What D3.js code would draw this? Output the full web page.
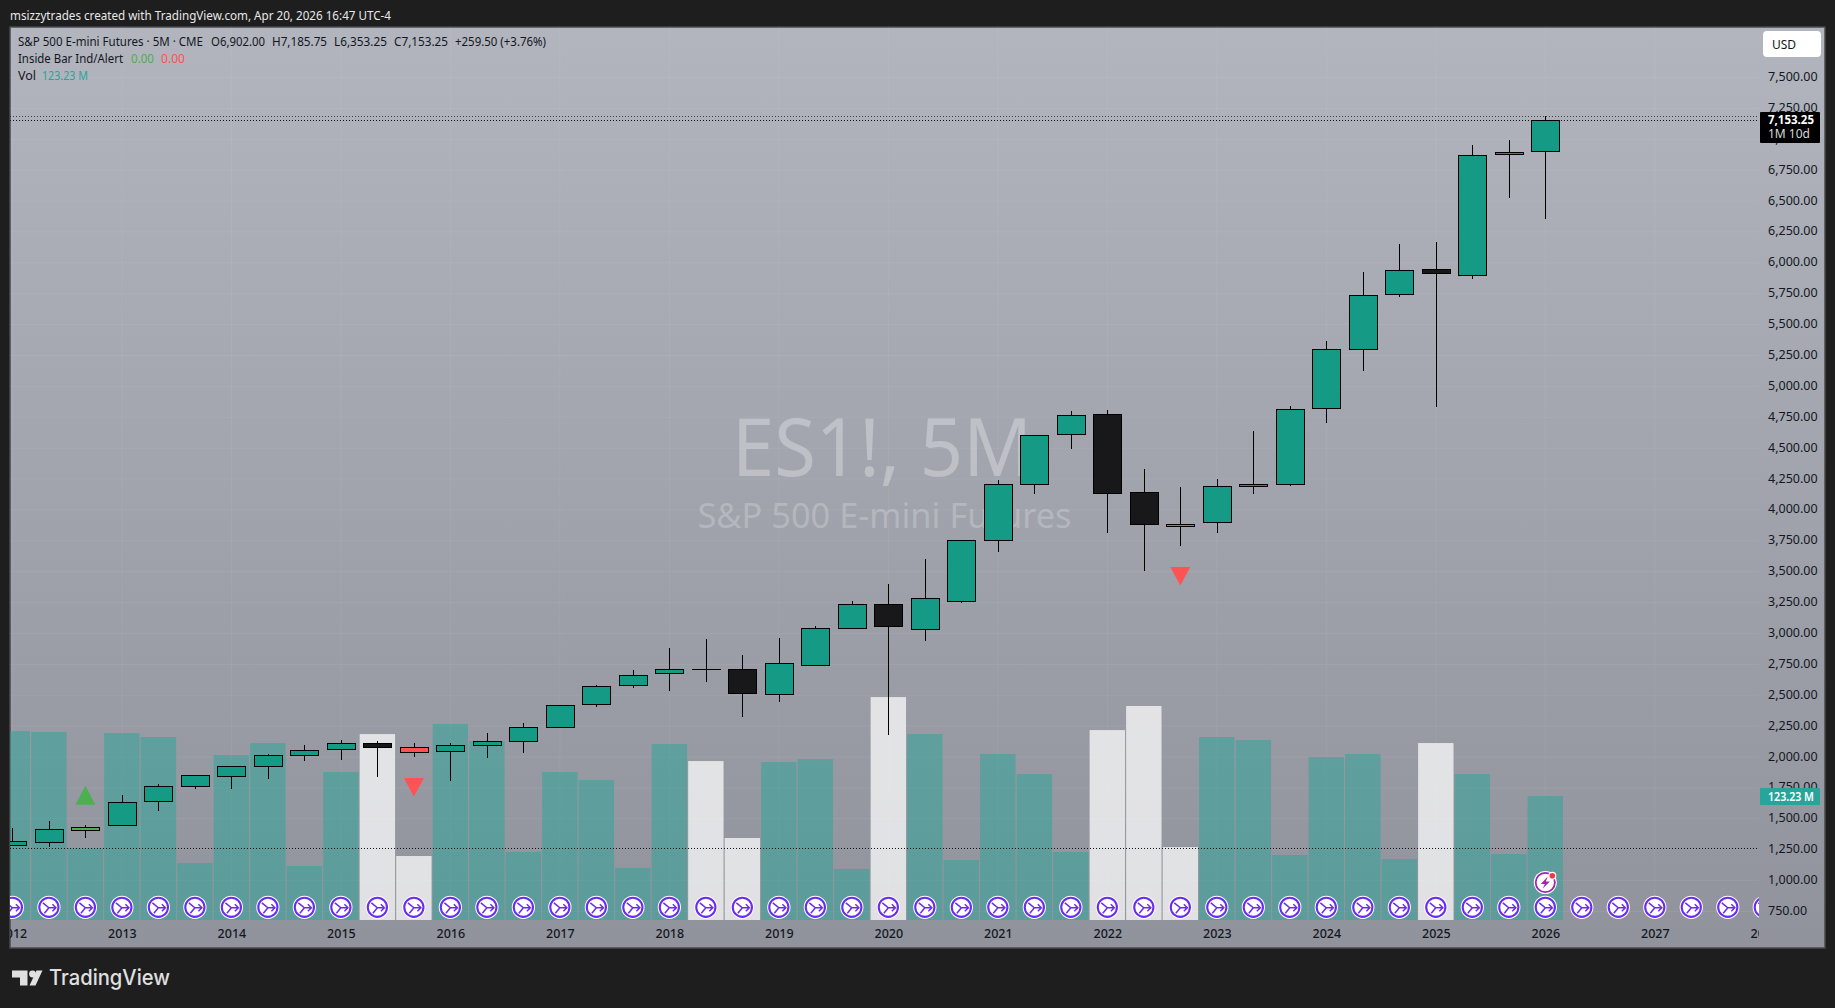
<!DOCTYPE html>
<html>
<head>
<meta charset="utf-8">
<script src="https://cdn.jsdelivr.net/npm/d3@7"></script>
<style>
  html, body { margin: 0; padding: 0; background: #1e1e1e; overflow: hidden; }
  svg { display: block; }
  text { font-family: "Noto Sans", sans-serif; }
</style>
</head>
<body>
<svg id="chart" width="1835" height="1008"></svg>
<script>
// candles, oldest first
const opens = [1282,1312,1409,1449,1639,1765,1846,1927,2016,2064,2106,2074,2043,2097,2129,2242,2424,2577,2679,2710,2705,2509,2744,3044,3231,3035,3262,3756,4209,4614,4769,4138,3879,3901,4193,4209,4824,5302,5747,5942,5900,6880,6902];
const highs = [1423,1480,1448,1690,1782,1847,1920,2025,2095,2135,2127,2114,2114,2195,2273,2414,2581,2702,2882,2955,2826,2961,3058,3260,3400,3600,3749,4242,4599,4798,4809,4331,4185,4250,4639,4841,5367,5925,6152,6168,6953,6994,7185.75];
const lows = [1280,1272,1345,1449,1563,1741,1741,1822,1968,1976,1838,2000,1806,1992,2035,2242,2407,2561,2537,2610,2326,2448,2744,3044,2178,2942,3249,3659,4129,4493,3813,3506,3708,3813,4129,4194,4703,5124,5726,4833,5869,6524,6353.25];
const closes = [1313,1410,1427,1629,1758,1847,1920,2009,2050,2106,2080,2040,2090,2123,2236,2414,2568,2662,2705,2709,2517,2754,3037,3231,3060,3280,3749,4202,4599,4761,4136,3885,3869,4186,4202,4809,5295,5732,5934,5917,6865,6889,7153.25];
const volumes = [187.8,186.8,71.3,185.8,181.9,56.6,164,175.9,53.7,147.1,184.8,63.6,194.8,177.9,67.6,147.1,139.1,51.7,174.9,158,81.5,157,160,50.7,221.6,184.8,59.6,165,145.1,67.6,188.8,212.7,72.5,181.9,178.9,64.6,162,165,60.6,175.9,145.1,65.6,123.23];

const yearLabels = ['2012','2013','2014','2015','2016','2017','2018','2019','2020','2021','2022','2023','2024','2025','2026','2027','2028'];
const priceTicks = d3.range(750, 7501, 250);
const insideUp = [2];      // green signal bars
const insideDown = [11, 32];
const keyLevel = 1261;
const lastClose = 7153.25, lastHigh = 7185.75;

const W = 1835, H = 1008;
const pane = { left: 10, top: 27, right: 1825, bottom: 948, plotRight: 1759 };
const BARS_PER_YEAR = 3;

const svg = d3.select('#chart');
const defs = svg.append('defs');

const grad = defs.append('linearGradient').attr('id', 'bg-grad').attr('x1', 0).attr('y1', 0).attr('x2', 0).attr('y2', 1);
grad.append('stop').attr('offset', '0%').attr('stop-color', '#b2b5be');
grad.append('stop').attr('offset', '100%').attr('stop-color', '#91939c');

defs.append('clipPath').attr('id', 'plot-clip').append('rect')
  .attr('x', pane.left).attr('y', pane.top)
  .attr('width', pane.plotRight - pane.left).attr('height', pane.bottom - pane.top);

const x = d3.scaleLinear().domain([0, 42]).range([12.4, 1545.3]);
const y = d3.scaleLinear().domain([750, 7500]).range([911.5, 77.5]);
const yVol = d3.scaleLinear().domain([0, 100]).range([920, 819.4]);
const bodyW = 28, volW = 35.4, candleShift = 0.5;

// fits a label to the width it has in the reference
function fit(sel, len) {
  return sel.attr('textLength', len).attr('lengthAdjust', 'spacingAndGlyphs');
}

// page chrome
svg.append('rect').attr('width', W).attr('height', H).attr('fill', '#1e1e1e');
fit(svg.append('text').attr('x', 10).attr('y', 19.5).attr('font-size', 12.5).attr('fill', '#e8e8e8')
  .text('msizzytrades created with TradingView.com, Apr 20, 2026 16:47 UTC-4'), 381);

svg.append('rect')
  .attr('x', pane.left).attr('y', pane.top)
  .attr('width', pane.right - pane.left).attr('height', pane.bottom - pane.top)
  .attr('fill', 'url(#bg-grad)').attr('stroke', '#4a4a4c').attr('stroke-width', 1.5);

// logo
const logo = svg.append('g').attr('fill', '#e0e0e0');
logo.append('path').attr('d', 'M12,970.5H27.5V985.5H20V977.5H12Z');
logo.append('circle').attr('cx', 32.5).attr('cy', 974).attr('r', 3.4);
logo.append('path').attr('d', 'M36.5,970.5H42.5L35.5,985.5H29.5Z');
fit(svg.append('text').attr('x', 49).attr('y', 985).attr('font-size', 21).attr('font-weight', 500)
  .attr('fill', '#e0e0e0').style('font-family', 'Inter, sans-serif').text('TradingView'), 121);

const plot = svg.append('g').attr('clip-path', 'url(#plot-clip)');

// grid
const yearIdx = yearLabels.map((d, i) => i * BARS_PER_YEAR);
plot.append('g').selectAll('line').data(yearIdx).join('line')
  .attr('x1', d => x(d)).attr('x2', d => x(d)).attr('y1', pane.top).attr('y2', 920)
  .attr('stroke', 'rgba(255,255,255,0.06)');
plot.append('g').selectAll('line').data(priceTicks).join('line')
  .attr('x1', pane.left).attr('x2', pane.plotRight).attr('y1', d => y(d)).attr('y2', d => y(d))
  .attr('stroke', 'rgba(255,255,255,0.06)');

// watermark
fit(plot.append('text').attr('x', 882).attr('y', 476).attr('text-anchor', 'middle')
  .attr('font-size', 80).attr('fill', 'rgba(255,255,255,0.3)').text('ES1!, 5M'), 300);
fit(plot.append('text').attr('x', 884.5).attr('y', 528).attr('text-anchor', 'middle')
  .attr('font-size', 35).attr('fill', 'rgba(255,255,255,0.22)').text('S&P 500 E-mini Futures'), 374);

// volume
plot.append('g').selectAll('rect').data(volumes).join('rect')
  .attr('x', (d, i) => x(i) - volW / 2)
  .attr('width', volW)
  .attr('y', d => yVol(d))
  .attr('height', d => yVol(0) - yVol(d))
  .attr('fill', (d, i) => closes[i] < opens[i] ? '#ffffff' : '#26a69a')
  .attr('fill-opacity', (d, i) => closes[i] < opens[i] ? 0.72 : 0.5);

// horizontal dotted levels
const levels = plot.append('g').attr('stroke', '#111').attr('stroke-dasharray', '1 2')
  .attr('shape-rendering', 'crispEdges');
levels.selectAll('line').data([lastHigh, lastClose, keyLevel]).join('line')
  .attr('x1', pane.left).attr('x2', pane.plotRight - 2)
  .attr('y1', d => y(d)).attr('y2', d => y(d))
  .attr('stroke-opacity', d => d === lastHigh ? 0.7 : 1);

// candles
function candleFill(i) {
  if (insideUp.includes(i)) return '#4caf50';
  if (insideDown.includes(i)) return '#ff5252';
  return closes[i] < opens[i] ? '#18181a' : '#089981';
}
const candles = plot.append('g').attr('shape-rendering', 'crispEdges')
  .attr('transform', `translate(${candleShift},0)`);
candles.selectAll('line').data(opens).join('line')
  .attr('x1', (d, i) => x(i)).attr('x2', (d, i) => x(i))
  .attr('y1', (d, i) => y(highs[i])).attr('y2', (d, i) => y(lows[i]))
  .attr('stroke', '#000');
candles.selectAll('rect.fillbase').data(opens).join('rect').attr('class', 'fillbase')
  .attr('x', (d, i) => x(i) - bodyW / 2)
  .attr('width', bodyW)
  .attr('y', (d, i) => y(Math.max(opens[i], closes[i])))
  .attr('height', (d, i) => Math.abs(y(opens[i]) - y(closes[i])))
  .attr('fill', '#a4a6af');
candles.selectAll('rect.body').data(opens).join('rect').attr('class', 'body')
  .attr('x', (d, i) => x(i) - bodyW / 2)
  .attr('width', bodyW)
  .attr('y', (d, i) => y(Math.max(opens[i], closes[i])))
  .attr('height', (d, i) => Math.abs(y(opens[i]) - y(closes[i])))
  .attr('fill', (d, i) => candleFill(i))
  .attr('fill-opacity', (d, i) => candleFill(i) === '#089981' ? 0.92 : 1)
  .attr('stroke', '#000');

// inside bar signals
const marks = plot.append('g');
marks.selectAll('path.up').data(insideUp).join('path').attr('class', 'up')
  .attr('transform', d => `translate(${x(d)},${y(highs[d])})`)
  .attr('d', 'M0,-39.5L10,-20.5L-10,-20.5Z').attr('fill', '#4caf50');
marks.selectAll('path.down').data(insideDown).join('path').attr('class', 'down')
  .attr('transform', d => `translate(${x(d)},${y(lows[d])})`)
  .attr('d', 'M-10,21L10,21L0,39.5Z').attr('fill', '#ff5252');

// event icons along the bottom
const eventIdx = d3.range(0, yearLabels.length * BARS_PER_YEAR - 2);
const events = plot.append('g').selectAll('g').data(eventIdx).join('g')
  .attr('transform', d => `translate(${x(d)},907.3)`);
events.append('circle').attr('r', 11.6).attr('fill', '#fff');
events.append('circle').attr('r', 9.6).attr('fill', '#fff').attr('stroke', '#6a2cf0').attr('stroke-width', 2.1);
events.append('path').attr('fill', 'none').attr('stroke', '#6a2cf0').attr('stroke-width', 1.5)
  .attr('d', 'M-6,-4.5L0,0.5H7M3.5,-3L7,0.5L3.5,4M0,0.5L-4.5,6');

// alert badge on the live bar
const badge = plot.append('g').attr('transform', `translate(${x(42)},882.5)`);
badge.append('circle').attr('r', 11.5).attr('fill', '#fff');
badge.append('circle').attr('r', 9.6).attr('fill', '#fff').attr('stroke', '#9c27b0').attr('stroke-width', 1.8);
badge.append('path').attr('fill', '#9c27b0').attr('d', 'M2.5,-6L-4.5,1.5H-0.5L-2.5,6L4.5,-1H0.5Z');
badge.append('circle').attr('cx', 7).attr('cy', -6.7).attr('r', 4).attr('fill', '#fff');
badge.append('circle').attr('cx', 7).attr('cy', -6.7).attr('r', 2.8).attr('fill', '#f23645');

// time axis
const timeAxis = d3.axisBottom(x).tickValues(yearIdx).tickSize(0).tickPadding(0)
  .tickFormat((d, i) => yearLabels[i]);
const gTime = plot.append('g').attr('transform', 'translate(0,929.5)').call(timeAxis);
gTime.select('.domain').remove();
gTime.selectAll('text').attr('font-size', 12.5).attr('font-weight', 500).attr('fill', '#131722')
  .style('font-family', '"Noto Sans", sans-serif');

// price axis
const priceAxis = d3.axisRight(y).tickValues(priceTicks).tickSize(0).tickPadding(0)
  .tickFormat(d3.format(',.2f'));
const gPrice = svg.append('g').attr('transform', 'translate(1768,-1)').call(priceAxis);
gPrice.select('.domain').remove();
gPrice.selectAll('text').attr('font-size', 12.5).attr('fill', '#131722')
  .style('font-family', '"Noto Sans", sans-serif');

// USD button
svg.append('rect').attr('x', 1763).attr('y', 31).attr('width', 58).attr('height', 26).attr('rx', 4)
  .attr('fill', '#fff');
svg.append('text').attr('x', 1772).attr('y', 48.5).attr('font-size', 12).attr('fill', '#131722').text('USD');

// price and volume tags
svg.append('rect').attr('x', 1760).attr('y', 112).attr('width', 60).attr('height', 31).attr('rx', 1).attr('fill', '#000');
fit(svg.append('text').attr('x', 1768).attr('y', 124).attr('font-size', 12.5).attr('font-weight', 700)
  .attr('fill', '#fff').text(d3.format(',.2f')(lastClose)), 46);
svg.append('text').attr('x', 1768).attr('y', 138).attr('font-size', 12).attr('fill', '#d8d8d8').text('1M 10d');
svg.append('rect').attr('x', 1760).attr('y', 788).attr('width', 60).attr('height', 17).attr('rx', 1).attr('fill', '#26a69a');
fit(svg.append('text').attr('x', 1768).attr('y', 801).attr('font-size', 12.5).attr('font-weight', 600)
  .attr('fill', '#fff').text('123.23 M'), 46);

// legend
const legend = svg.append('g').attr('font-size', 12.5).attr('fill', '#131722');
fit(legend.append('text').attr('x', 18).attr('y', 45.7)
  .text('S&P 500 E-mini Futures · 5M · CME'), 185);
fit(legend.append('text').attr('x', 211).attr('y', 45.7).text('O6,902.00'), 54);
fit(legend.append('text').attr('x', 272).attr('y', 45.7).text('H7,185.75'), 55);
fit(legend.append('text').attr('x', 334).attr('y', 45.7).text('L6,353.25'), 53);
fit(legend.append('text').attr('x', 394).attr('y', 45.7).text('C7,153.25'), 54);
fit(legend.append('text').attr('x', 455).attr('y', 45.7).text('+259.50 (+3.76%)'), 91);
fit(legend.append('text').attr('x', 18).attr('y', 62.7).text('Inside Bar Ind/Alert'), 105);
fit(legend.append('text').attr('x', 131).attr('y', 62.7).attr('fill', '#4caf50').text('0.00'), 23);
fit(legend.append('text').attr('x', 161).attr('y', 62.7).attr('fill', '#ff5252').text('0.00'), 24);
legend.append('text').attr('x', 18).attr('y', 79.7).text('Vol');
fit(legend.append('text').attr('x', 42).attr('y', 79.7).attr('fill', '#26a69a').text('123.23 M'), 46);
</script>
</body>
</html>
